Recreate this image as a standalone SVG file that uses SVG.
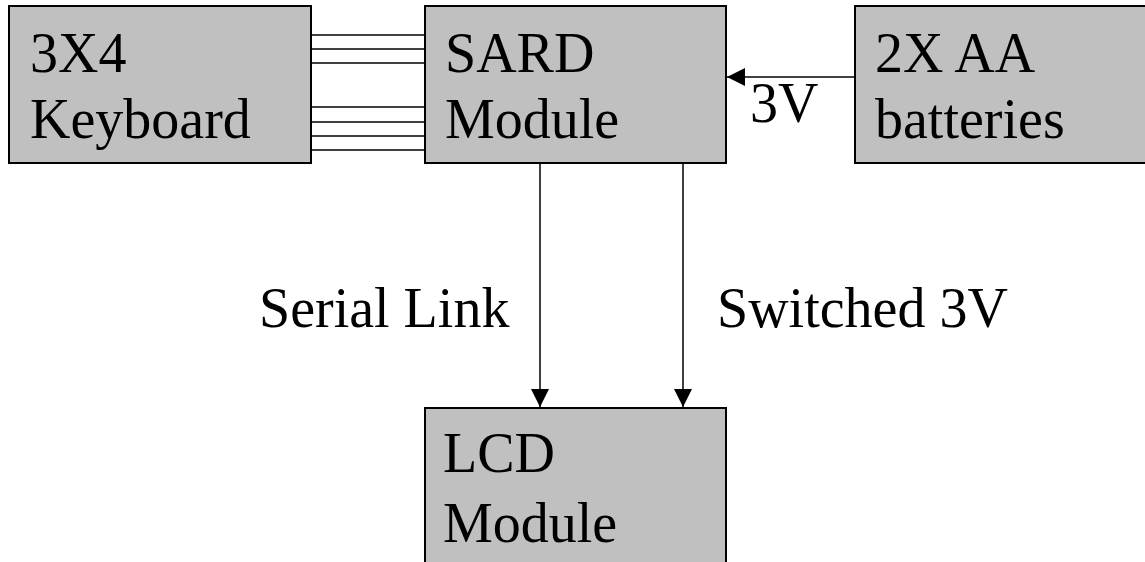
<svg xmlns="http://www.w3.org/2000/svg" width="1145" height="562" viewBox="0 0 1145 562">
<defs>
<style>
.box{fill:#c0c0c0;stroke:#000;stroke-width:2}
.t{font-family:"Liberation Serif","Times New Roman",serif;font-size:56px;fill:#000}
.ln{stroke:#000;stroke-width:1.5;fill:none}
</style>
<marker id="ah" markerWidth="18" markerHeight="18" refX="18" refY="9" orient="auto" markerUnits="userSpaceOnUse">
<path d="M0,0 L18,9 L0,18 Z" fill="#000"/>
</marker>
</defs>
<rect width="1145" height="562" fill="#fff"/>
<g id="connectors">
<line class="ln" x1="311" y1="35" x2="425" y2="35"/>
<line class="ln" x1="311" y1="49" x2="425" y2="49"/>
<line class="ln" x1="311" y1="63" x2="425" y2="63"/>
<line class="ln" x1="311" y1="107" x2="425" y2="107"/>
<line class="ln" x1="311" y1="122" x2="425" y2="122"/>
<line class="ln" x1="311" y1="136" x2="425" y2="136"/>
<line class="ln" x1="311" y1="150" x2="425" y2="150"/>
<line class="ln" x1="855" y1="77" x2="727" y2="77" marker-end="url(#ah)"/>
<line class="ln" x1="540" y1="163" x2="540" y2="407" marker-end="url(#ah)"/>
<line class="ln" x1="683" y1="163" x2="683" y2="407" marker-end="url(#ah)"/>
<text class="t" x="750" y="122">3V</text>
<text class="t" x="259" y="327">Serial Link</text>
<text class="t" x="717" y="327">Switched 3V</text>
</g>
<g id="keyboard">
<rect class="box" x="9" y="6" width="302" height="157"/>
<text class="t" x="30" y="72">3X4</text>
<text class="t" x="30" y="138">Keyboard</text>
</g>
<g id="sard">
<rect class="box" x="425" y="6" width="301" height="157"/>
<text class="t" x="445" y="72">SARD</text>
<text class="t" x="445" y="138">Module</text>
</g>
<g id="batteries">
<rect class="box" x="855" y="6" width="300" height="157"/>
<text class="t" x="875" y="72">2X AA</text>
<text class="t" x="875" y="138">batteries</text>
</g>
<g id="lcd">
<rect class="box" x="425" y="408" width="301" height="170"/>
<text class="t" x="443" y="472">LCD</text>
<text class="t" x="443" y="542">Module</text>
</g>
</svg>
